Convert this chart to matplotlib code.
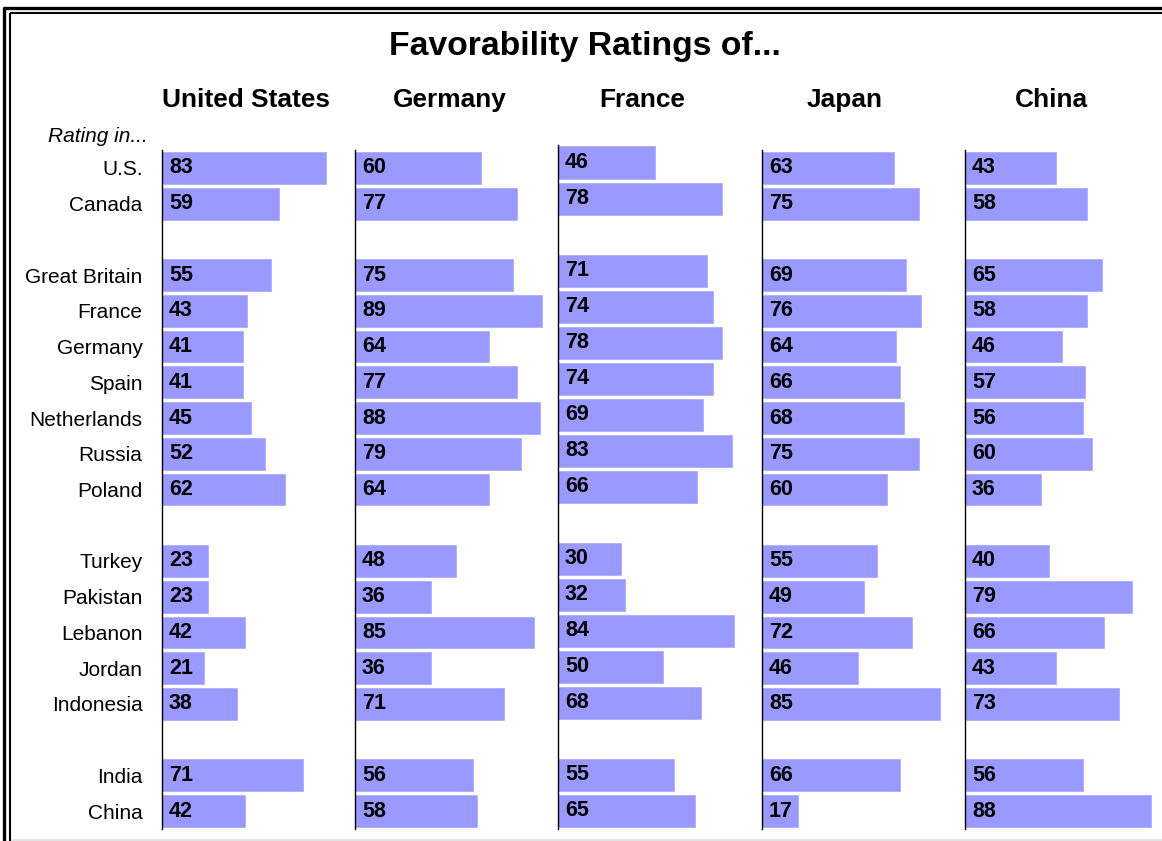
import matplotlib
matplotlib.use("Agg")
import matplotlib.pyplot as plt
from matplotlib.lines import Line2D

plt.rcParams['font.family'] = ['Liberation Sans', 'DejaVu Sans']

# ---------------- data ----------------
title = "Favorability Ratings of..."
panels = ["United States", "Germany", "France", "Japan", "China"]
rated_in = ["U.S.", "Canada", "Great Britain", "France", "Germany", "Spain",
            "Netherlands", "Russia", "Poland", "Turkey", "Pakistan", "Lebanon",
            "Jordan", "Indonesia", "India", "China"]
# row slots (gaps between groups)
slots = [0, 1, 3, 4, 5, 6, 7, 8, 9, 11, 12, 13, 14, 15, 17, 18]

united_states = [83, 59, 55, 43, 41, 41, 45, 52, 62, 23, 23, 42, 21, 38, 71, 42]
germany = [60, 77, 75, 89, 64, 77, 88, 79, 64, 48, 36, 85, 36, 71, 56, 58]
france = [46, 78, 71, 74, 78, 74, 69, 83, 66, 30, 32, 84, 50, 68, 55, 65]
japan = [63, 75, 69, 76, 64, 66, 68, 75, 60, 55, 49, 72, 46, 85, 66, 17]
china = [43, 58, 65, 58, 46, 57, 56, 60, 36, 40, 79, 66, 43, 73, 56, 88]
series = [united_states, germany, france, japan, china]

# ---------------- layout (pixels) ----------------
W, H = 1162, 841
fig = plt.figure(figsize=(W / 100, H / 100), dpi=100)

BAR = "#9999FF"
# left spine x, px-per-unit, top px, bottom px, title center x
layout = [
    (162, 1.98, 150, 829, 246),
    (355, 2.10, 150, 829, 450),
    (558, 2.10, 144.5, 829, 642),
    (762, 2.09, 150, 829, 845),
    (965, 2.11, 150, 829, 1051),
]
AXW = 196

for i, (name, vals) in enumerate(zip(panels, series)):
    x0, sc, ytop, ybot, tcx = layout[i]
    ax = fig.add_axes([x0 / W, 1 - ybot / H, AXW / W, (ybot - ytop) / H])
    ax.barh(slots, vals, height=0.89, color=BAR, edgecolor="#ADADFF", linewidth=0.6)
    ax.set_xlim(0, AXW / sc)
    ax.set_ylim(18.5, -0.5)
    for s in ["top", "right", "bottom"]:
        ax.spines[s].set_visible(False)
    ax.spines["left"].set_linewidth(1.0)
    ax.spines["left"].set_color("black")
    ax.set_xticks([])
    ax.patch.set_alpha(0)
    if i == 0:
        ax.set_yticks(slots)
        ax.set_yticklabels(rated_in, fontsize=15)
        ax.tick_params(axis="y", length=0, pad=14)
    else:
        ax.set_yticks([])
    for s, v in zip(slots, vals):
        ax.text(7 / sc, s, str(v), ha="left", va="center",
                fontsize=15.5, fontweight="bold", color="black")
    fig.text(tcx / W, 1 - 100 / H, name, ha="center", va="center",
             fontsize=18.9, fontweight="bold")

fig.text(585 / W, 1 - 47 / H, title, ha="center", va="center",
         fontsize=24.3, fontweight="bold")
fig.text(148 / W, 1 - 136 / H, "Rating in...", ha="right", va="center",
         fontsize=15, style="italic")

# frame (double border)
def fl(xs, ys, lw, color="black"):
    fig.add_artist(Line2D([x / W for x in xs], [1 - y / H for y in ys],
                          transform=fig.transFigure, lw=lw, color=color,
                          solid_capstyle="butt"))

fl([4, 4], [7, 841], 2.4)
fl([3, 1162], [8, 8], 2.4)
fl([10, 10], [12.5, 841], 1.5)
fl([9.5, 1162], [13, 13], 1.5)
fl([11, 1162], [839.5, 839.5], 1.2, "#DDDDDD")

fig.savefig("out.png", dpi=100)
